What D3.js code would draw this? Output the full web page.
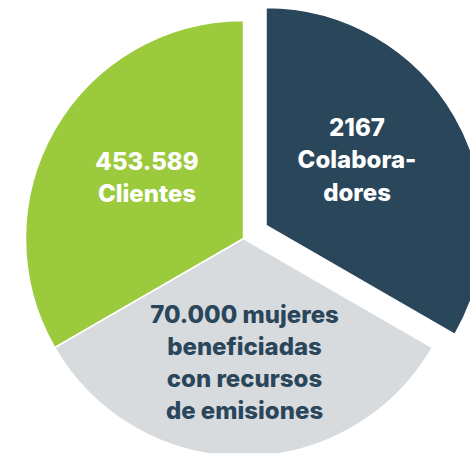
<!DOCTYPE html>
<html>
<head>
<meta charset="utf-8">
<script src="https://cdn.jsdelivr.net/npm/d3@7"></script>
<style>
  body { margin: 0; background: #fff; }
  svg { display: block; }
</style>
</head>
<body>
<div class="main"></div>
<script>
//data
var names = ["Colaboradores", "Mujeres", "Clientes"];
var shares = [1, 1, 1];
var labelLines = [
	["2167", "Colabora-", "dores"],
	["70.000 mujeres", "beneficiadas", "con recursos", "de emisiones"],
	["453.589", "Clientes"]
];
var colors = ["#2a465b", "#d8dbde", "#9bca3c"];
var textColors = ["#ffffff", "#2a465b", "#ffffff"];
var exploded = [26, 0, 0];

//Canvas config
var width = 470, height = 453;
var cx = 243.5, cy = 238.5, radius = 218;

var svg = d3.select(".main")
	.append("svg")
	.attr("width", width)
	.attr("height", height);

var g = svg.append("g")
	.attr("transform", "translate(" + cx + "," + cy + ")");

var pie = d3.pie().sort(null).value(function(d) { return d; });
var arcs = pie(shares);
var arc = d3.arc().innerRadius(0).outerRadius(radius);

function offset(d, i) {
	var a = (d.startAngle + d.endAngle) / 2;
	return [Math.sin(a) * exploded[i], -Math.cos(a) * exploded[i]];
}

var slices = g.selectAll("g.slice")
	.data(arcs)
	.enter()
	.append("g")
	.attr("class", "slice")
	.attr("transform", function(d, i) {
		var o = offset(d, i);
		return "translate(" + o[0] + "," + o[1] + ")";
	});

slices.append("path")
	.attr("d", arc)
	.style("fill", function(d, i) { return colors[i]; })
	.style("stroke", "#fff")
	.style("stroke-width", 1.5);

// label positions, relative to the (shifted) slice
var labelPos = [[91, -89.5], [1, 84], [-96.5, -69]];
var lineH = 32.3;

slices.each(function(d, i) {
	var lines = labelLines[i];
	var t = d3.select(this).append("text")
		.attr("text-anchor", "middle")
		.style("font-family", "Inter, 'Noto Sans', sans-serif")
		.style("font-weight", 800)
		.style("font-size", "24px")
		.style("fill", textColors[i]);
	lines.forEach(function(l, k) {
		t.append("tspan")
			.attr("x", labelPos[i][0])
			.attr("y", labelPos[i][1] + k * lineH)
			.text(l);
	});
});
</script>
</body>
</html>
